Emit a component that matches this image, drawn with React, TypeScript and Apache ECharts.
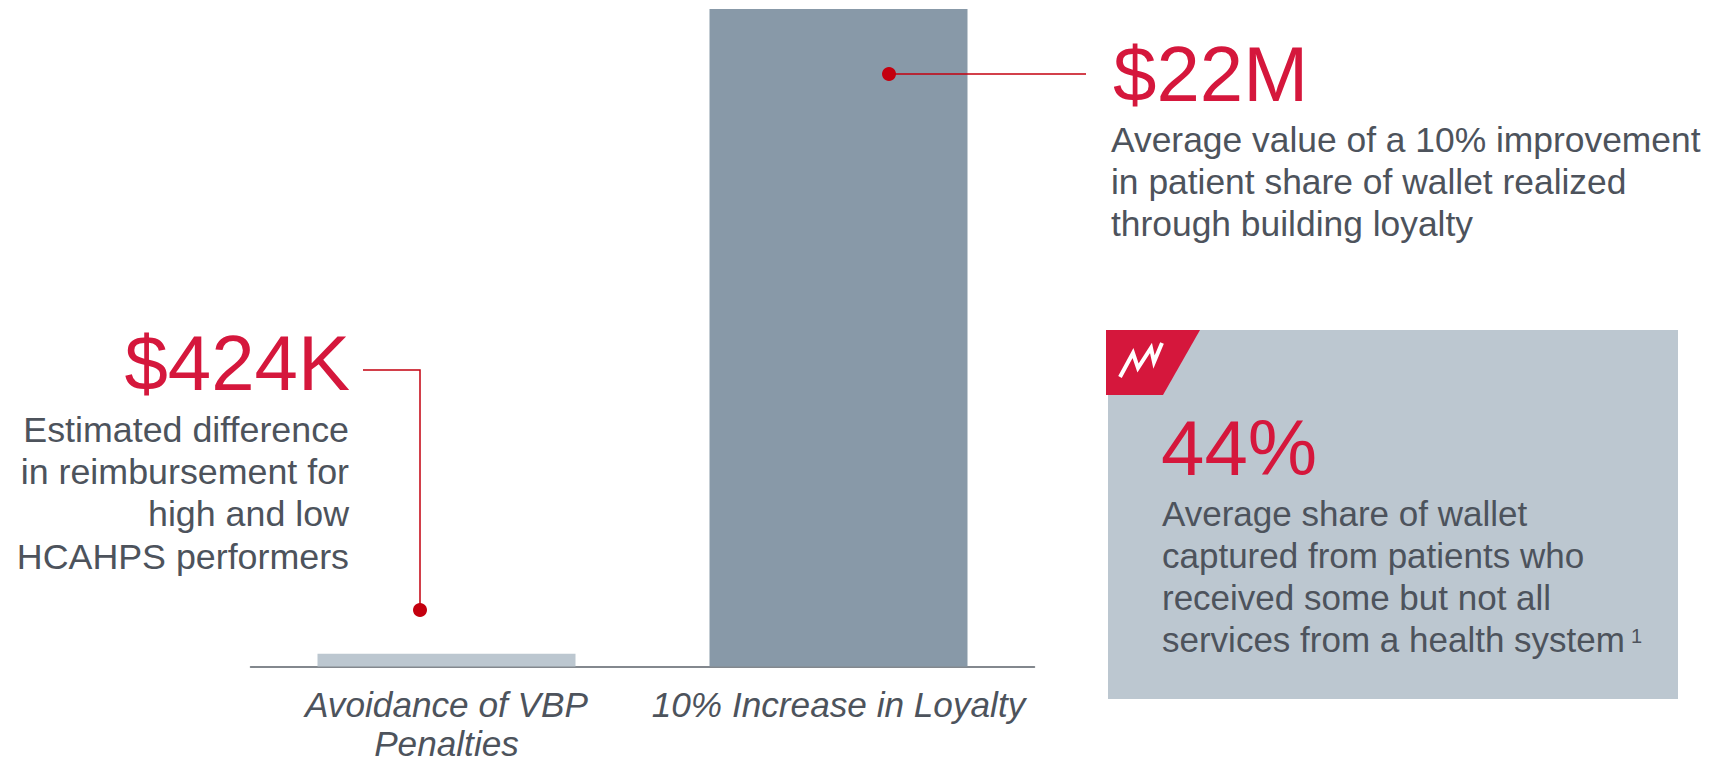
import React, { useEffect, useRef } from "react";
import * as echarts from "echarts";

const categories = ["Avoidance of VBP\nPenalties", "10% Increase in Loyalty"];
const valuesInThousands = [424, 22000];
const barColors = ["#bcc7d0", "#8899a8"];
const calloutLeftBig = "$424K";
const calloutLeftLines = ["Estimated difference", "in reimbursement for", "high and low", "HCAHPS performers"];
const calloutRightBig = "$22M";
const calloutRightLines = ["Average value of a 10% improvement", "in patient share of wallet realized", "through building loyalty"];
const panelBig = "44%";
const panelLines = ["Average share of wallet", "captured from patients who", "received some but not all", "services from a health system"];

const RED = "#d5173c";
const DOT = "#c4000f";
const TEXT = "#4d535c";
const FONT = "'Liberation Sans', Arial, sans-serif";

echarts.graphic.registerShape("zigzag", (echarts.graphic as any).extendPath("M0 34L13 10L18 25L31 5L34 19L42 0", {}));

const txt = (x: number, y: number, text: string, size: number, fill: string, align = "left") => ({
  type: "text", x, y, silent: true, z: 10,
  style: { text, fontSize: size, fontFamily: FONT, fill, align, verticalAlign: "middle" },
});

export default function App() {
  const ref = useRef<HTMLDivElement>(null);
  useEffect(() => {
    document.body.style.margin = "0";
    const chart = echarts.init(ref.current!, undefined, { renderer: "svg" });
    chart.setOption({
      animation: false,
      backgroundColor: "#ffffff",
      grid: { left: 250.5, top: 9, width: 784, height: 657.5, containLabel: false, outerBoundsMode: "none" },
      xAxis: {
        type: "category",
        data: categories,
        axisTick: { show: false },
        axisLine: { lineStyle: { color: "#5a6068", width: 1.5 } },
        axisLabel: { fontFamily: FONT, fontStyle: "italic", fontSize: 35.2, color: TEXT, lineHeight: 39, margin: 18, interval: 0 },
      },
      yAxis: { type: "value", min: 0, max: 22000, show: false },
      series: [{
        type: "bar",
        barWidth: 258,
        data: valuesInThousands.map((value, i) => ({ value, itemStyle: { color: barColors[i] } })),
      }],
      graphic: [
        { type: "line", silent: true, z: 10, shape: { x1: 889, y1: 74, x2: 1086, y2: 74 }, style: { stroke: DOT, lineWidth: 1.5 } },
        { type: "circle", silent: true, z: 10, shape: { cx: 889, cy: 74, r: 7 }, style: { fill: DOT } },
        txt(1113, 74, calloutRightBig, 78, RED),
        ...calloutRightLines.map((l, i) => txt(1111, 139.5 + i * 42, l, 35.4, TEXT)),
        { type: "polyline", silent: true, z: 10, shape: { points: [[363, 370], [420, 370], [420, 610]] }, style: { stroke: DOT, lineWidth: 1.5, fill: "none" } },
        { type: "circle", silent: true, z: 10, shape: { cx: 420, cy: 610, r: 7 }, style: { fill: DOT } },
        txt(350, 363, calloutLeftBig, 78, RED, "right"),
        ...calloutLeftLines.map((l, i) => txt(349, 430 + i * 42.2, l, 35.8, TEXT, "right")),
        { type: "rect", silent: true, z: 9, shape: { x: 1108, y: 330, width: 570, height: 369 }, style: { fill: "#bcc7d0" } },
        { type: "polygon", silent: true, z: 10, shape: { points: [[1106, 330], [1200, 330], [1163, 395], [1106, 395]] }, style: { fill: RED } },
        { type: "zigzag", silent: true, z: 11, x: 1120, y: 343, style: { fill: "none", stroke: "#ffffff", lineWidth: 4 } },
        txt(1161, 448, panelBig, 78, RED),
        ...panelLines.map((l, i) => txt(1162, 513 + i * 42.3, l, 35, TEXT)),
        txt(1631, 636, "1", 20, TEXT),
      ],
    });
    return () => chart.dispose();
  }, []);
  return <div ref={ref} style={{ width: 1711, height: 761 }} />;
}
